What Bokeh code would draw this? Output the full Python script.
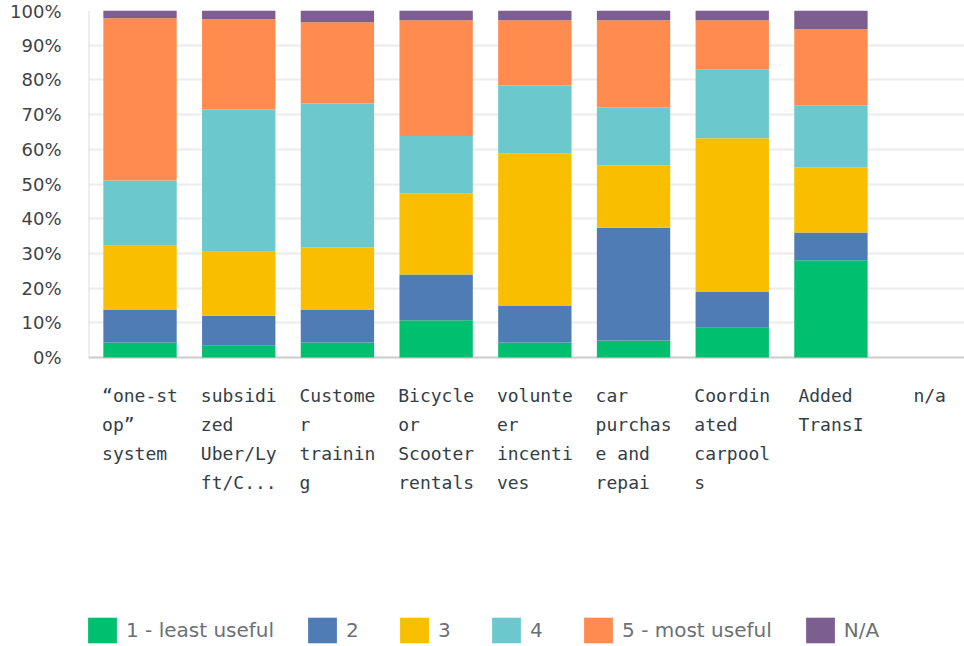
from bokeh.plotting import figure
from bokeh.models import (Range1d, FixedTicker, Legend, LegendItem, PrintfTickFormatter,
                          ColumnDataSource)
from bokeh.core.properties import value
from bokeh.embed import file_html
from bokeh.resources import INLINE

# ---- data (percent of respondents) ----
label_lines = [
    ["\u201cone-st", "op\u201d", "system"],
    ["subsidi", "zed", "Uber/Ly", "ft/C..."],
    ["Custome", "r", "trainin", "g"],
    ["Bicycle", "or", "Scooter", "rentals"],
    ["volunte", "er", "incenti", "ves"],
    ["car", "purchas", "e and", "repai"],
    ["Coordin", "ated", "carpool", "s"],
    ["Added", "TransI"],
    ["n/a"],
]
series_names = ["1 - least useful", "2", "3", "4", "5 - most useful", "N/A"]
s1 = [4.3, 3.4, 4.3, 10.7, 4.3, 4.9, 8.6, 28.0, 0]
s2 = [9.5, 8.6, 9.5, 13.2, 10.7, 32.5, 10.4, 8.0, 0]
s3 = [18.4, 18.5, 17.9, 23.4, 43.8, 17.9, 44.2, 18.8, 0]
s4 = [18.8, 41.0, 41.5, 16.5, 19.6, 16.8, 19.7, 17.9, 0]
s5 = [46.8, 26.0, 23.4, 33.4, 18.8, 25.1, 14.3, 21.9, 0]
sna = [2.2, 2.5, 3.4, 2.8, 2.8, 2.8, 2.8, 5.4, 0]
y_ticks = [0, 10, 20, 30, 40, 50, 60, 70, 80, 90, 100]

colors = ["#00BF6F", "#507CB6", "#F9BE00", "#6BC8CD", "#FF8B4F", "#7D5E90"]
keys = ["s1", "s2", "s3", "s4", "s5", "sna"]

x = list(range(len(label_lines)))
source = ColumnDataSource(dict(x=x, s1=s1, s2=s2, s3=s3, s4=s4, s5=s5, sna=sna))

# layout: the plotting frame runs down to the bottom of the page; the value
# axis 0..100 occupies its upper 347 px, labels and legend sit underneath.
FRAME_H = 636
PX_PER_UNIT = 347 / 100
X0, X1 = -0.522, 8.353
Y0 = 100 - FRAME_H / PX_PER_UNIT

p = figure(width=964, height=646, output_backend="svg", toolbar_location=None,
           x_axis_location=None,
           x_range=Range1d(X0, X1), y_range=Range1d(Y0, 100),
           min_border_left=88, min_border_right=0, min_border_top=10, min_border_bottom=0)
p.outline_line_color = None
p.background_fill_color = "white"
p.border_fill_color = "white"
for g in p.xgrid:
    g.visible = False

# axis lines (baseline at 0 % and left spine from 0 to 100 %)
p.segment(x0=[X0], y0=[0], x1=[X1], y1=[0], line_color="#cfcfcf", line_width=2)
p.segment(x0=[X0], y0=[0], x1=[X0], y1=[100], line_color="#dddddd", line_width=2)

renderers = p.vbar_stack(keys, x="x", width=0.743, color=colors, source=source, line_width=0)

# ---- category labels: wrapped lines, padded with non-breaking spaces (monospace)
#      so each block is centred on its bar and its lines are left-aligned ----
first_px, line_px = 38, 29
lx, ly, lt = [], [], []
for i, lines in enumerate(label_lines):
    w = max(len(s) for s in lines)
    for k, s in enumerate(lines):
        lx.append(i)
        ly.append(-(first_px + k * line_px) / PX_PER_UNIT)
        lt.append(s + "\u00a0" * (w - len(s)))
p.text(x=lx, y=ly, text=lt, text_font=value("DejaVu Sans Mono"), text_font_size="18px",
       text_color="#333e48", text_align="center", text_baseline="middle")

# ---- y axis ----
p.yaxis.ticker = FixedTicker(ticks=y_ticks)
p.yaxis.formatter = PrintfTickFormatter(format="%d%%")
p.yaxis.major_label_text_font = "DejaVu Sans"
p.yaxis.major_label_text_font_size = "18px"
p.yaxis.major_label_text_color = "#3f4347"
p.yaxis.major_label_standoff = 27
p.yaxis.major_tick_line_color = None
p.yaxis.minor_tick_line_color = None
p.yaxis.major_tick_out = 0
p.yaxis.major_tick_in = 0
p.yaxis.axis_line_color = None
p.ygrid.grid_line_color = "#ececec"
p.ygrid.grid_line_width = 2

# ---- legend at the bottom ----
items = [LegendItem(label=n, renderers=[r]) for n, r in zip(series_names, renderers)]
legend = Legend(items=items, orientation="horizontal", location=(-4, 0),
                glyph_width=36, glyph_height=32, label_height=32, label_standoff=6,
                spacing=30, padding=0, margin=0,
                border_line_alpha=0, background_fill_alpha=0,
                label_text_font="DejaVu Sans", label_text_font_size="20px",
                label_text_color="#6b7075")
p.add_layout(legend)

open("out.html", "w").write(file_html(p, INLINE))
